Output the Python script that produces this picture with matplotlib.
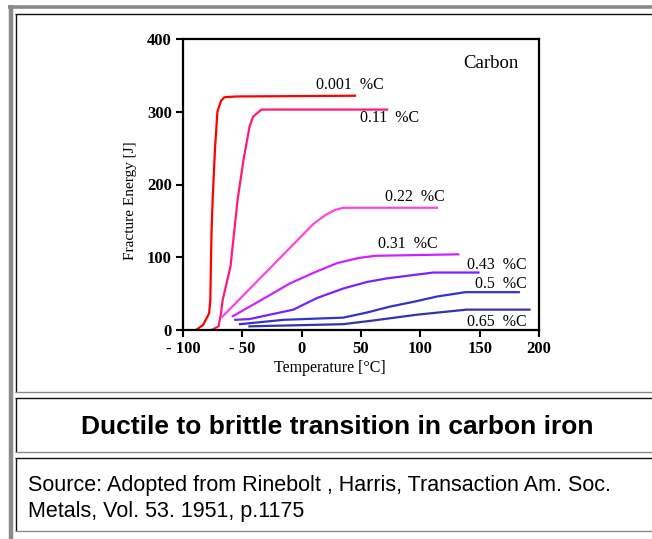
import matplotlib
matplotlib.use("Agg")
import matplotlib.pyplot as plt
from matplotlib.lines import Line2D

W, H = 652, 539

# ---- data ----
x_0001 = [-89, -83, -78, -77, -76, -75, -73, -71, -68, -65, -55, 45]
y_0001 = [0, 7, 23, 41, 133, 180, 250, 300, 315, 320, 321, 322]

x_011 = [-76, -70, -68, -66.6, -60, -54, -49, -44, -41, -34, 72]
y_011 = [0, 5, 23, 41, 87, 179, 234, 279, 293, 303, 303]

x_022 = [-67, 10, 20, 28, 35, 114]
y_022 = [18, 146, 158, 165, 168, 168]

x_031 = [-58, -30, -10, 12, 30, 48, 62, 132]
y_031 = [19, 45, 64, 80, 92, 99, 102, 104]

x_043 = [-56, -44, -27, -7, 13, 35, 55, 72, 111, 149]
y_043 = [14, 15, 21, 28, 44, 57, 66, 71, 79, 79]

x_05 = [-52, -15, 35, 55, 74, 95, 114, 138, 183]
y_05 = [8, 14, 17, 24, 32, 39, 46, 52, 52]

x_065 = [-44, 35, 60, 97, 139, 192]
y_065 = [5, 8, 13, 21, 28, 28]

series_labels = ["0.001  %C", "0.11  %C", "0.22  %C", "0.31  %C", "0.43  %C", "0.5  %C", "0.65  %C"]
label_pos = [(12, 337), (49, 291), (70, 183), (64, 118), (139, 89), (146, 63), (139, 11)]
colors = ["#ff0000", "#ff1a75", "#ff44dd", "#cc22ff", "#7722ff", "#3333cc", "#3333aa"]

xticks = [-100, -50, 0, 50, 100, 150, 200]
xtick_labels = ["- 100", "- 50", "0", "50", "100", "150", "200"]
yticks = [0, 100, 200, 300, 400]
ytick_labels = ["0", "100", "200", "300", "400"]

title = "Ductile to brittle transition in carbon iron"
source_lines = ["Source: Adopted from Rinebolt , Harris, Transaction Am. Soc.",
                "Metals, Vol. 53. 1951, p.1175"]

fig = plt.figure(figsize=(W / 100, H / 100), dpi=100)


def fx(px):
    return px / W


def fy(py):
    return 1 - py / H


def hline(x0, x1, y, color, lw):
    fig.add_artist(Line2D([fx(x0), fx(x1)], [fy(y), fy(y)], color=color, lw=lw,
                          transform=fig.transFigure, solid_capstyle="butt"))


def vline(x, y0, y1, color, lw):
    fig.add_artist(Line2D([fx(x), fx(x)], [fy(y0), fy(y1)], color=color, lw=lw,
                          transform=fig.transFigure, solid_capstyle="butt"))


# outer gray frame
hline(8, 652, 6.5, "#8a8a8a", 2.6)
vline(10.5, 5, 539, "#8a8a8a", 3.2)

# boxes (top/left dark, bottom gray)
for (t, b) in [(13.5, 391.5), (398, 451.5), (457.5, 531)]:
    hline(15, 652, t, "#111111", 1.0)
    vline(15.5, t, b, "#111111", 1.0)
    hline(15, 652, b, "#8a8a8a", 1.0)

ax = fig.add_axes([fx(183), fy(330), fx(539) - fx(183), fy(39) - fy(330)])

series = [(x_0001, y_0001), (x_011, y_011), (x_022, y_022), (x_031, y_031),
          (x_043, y_043), (x_05, y_05), (x_065, y_065)]
for (xs, ys), c in zip(series, colors):
    ax.plot(xs, ys, color=c, lw=1.6, solid_joinstyle="round")

serif = "Liberation Serif"
for lab, (lx, ly) in zip(series_labels, label_pos):
    ax.text(lx, ly, lab, fontsize=11.5, family=serif, va="center", ha="left")
ax.text(136, 367, "Carbon", fontsize=13.5, family=serif, va="center", ha="left")

ax.set_xlim(-100, 200)
ax.set_ylim(0, 400)
ax.set_xticks(xticks)
ax.set_xticklabels(xtick_labels)
ax.set_yticks(yticks)
ax.set_yticklabels(ytick_labels)
for lbl in ax.get_xticklabels() + ax.get_yticklabels():
    lbl.set_family(serif)
    lbl.set_fontsize(12)
    lbl.set_fontweight("bold")
ax.tick_params(direction="out", length=5, width=1.5, pad=3)
for s in ax.spines.values():
    s.set_linewidth(1.6)

ax.set_xlabel("Temperature [°C]", family=serif, fontsize=11.5)
ax.set_ylabel("Fracture Energy [J]", family=serif, fontsize=11)
ax.xaxis.set_label_coords((330 - 183) / 356, (330 - 360) / 291)
ax.yaxis.set_label_coords((137 - 183) / 356, (330 - 201) / 291)

fig.text(fx(337), fy(427), title, family="Liberation Sans", fontweight="bold",
         fontsize=19, ha="center", va="center")
fig.text(fx(28), fy(486), source_lines[0], family="Liberation Sans", fontsize=15.5,
         ha="left", va="center")
fig.text(fx(28), fy(512), source_lines[1], family="Liberation Sans", fontsize=15.5,
         ha="left", va="center")

fig.savefig("out.png", dpi=100)
